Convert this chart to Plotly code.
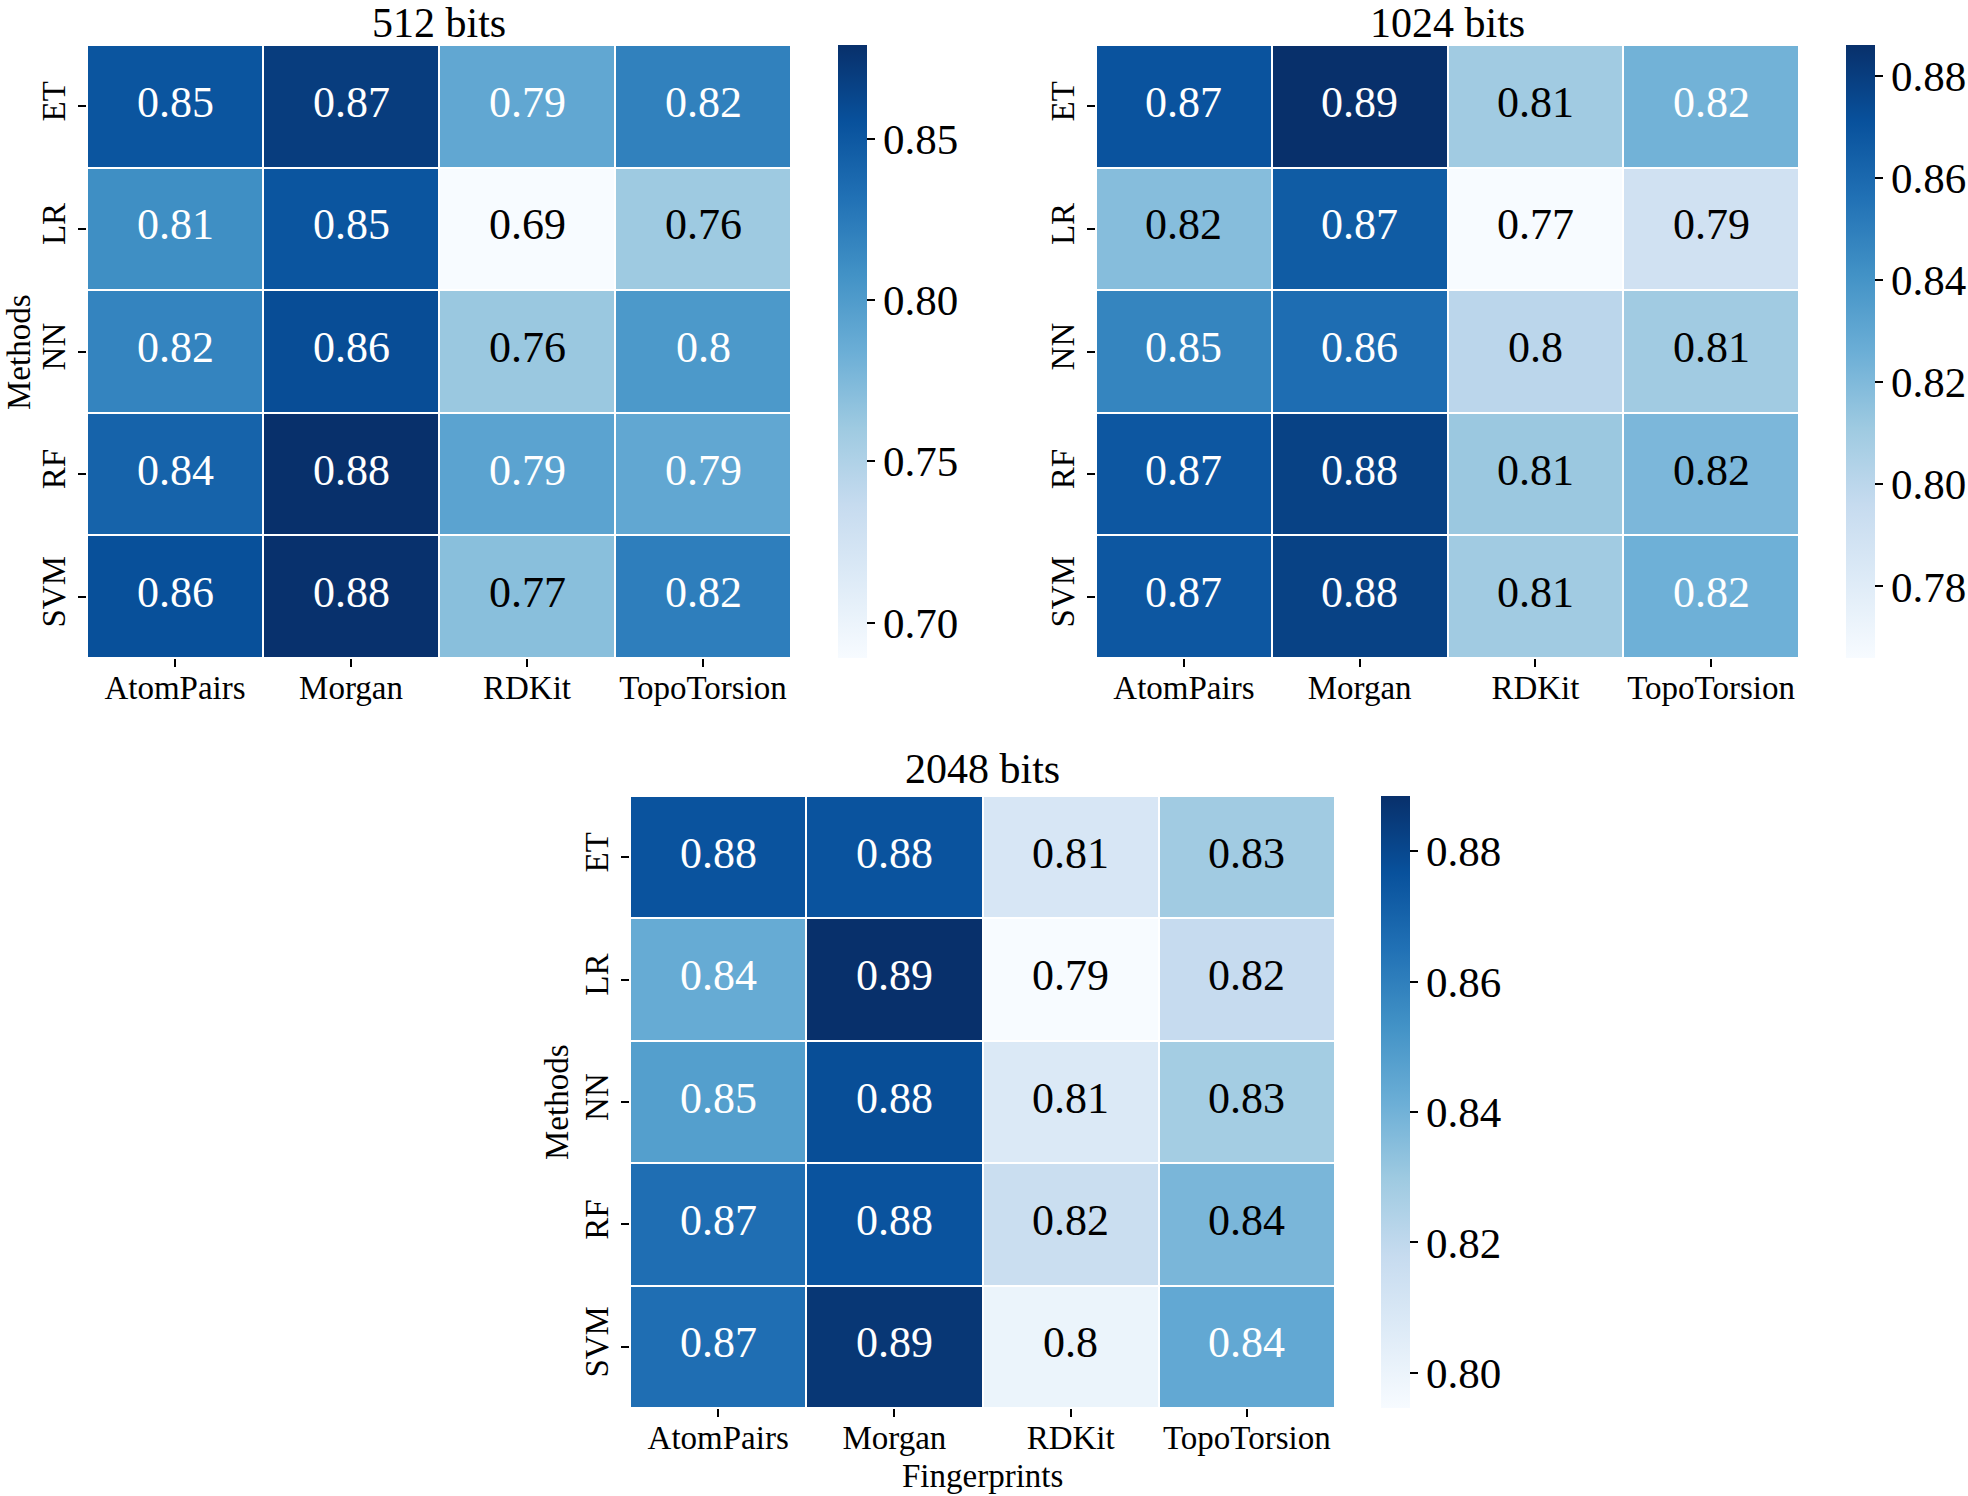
import plotly.graph_objects as go
from plotly.colors import sequential

fingerprints = ["AtomPairs", "Morgan", "RDKit", "TopoTorsion"]
methods = ["ET", "LR", "NN", "RF", "SVM"]

titles = ["512 bits", "1024 bits", "2048 bits"]

vals_512 = [
    [0.852, 0.870, 0.790, 0.820],
    [0.810, 0.852, 0.689, 0.760],
    [0.818, 0.858, 0.762, 0.802],
    [0.842, 0.879, 0.793, 0.790],
    [0.856, 0.878, 0.770, 0.822],
]
vals_1024 = [
    [0.870, 0.886, 0.810, 0.824],
    [0.818, 0.866, 0.766, 0.790],
    [0.847, 0.858, 0.800, 0.810],
    [0.868, 0.878, 0.812, 0.821],
    [0.868, 0.878, 0.810, 0.825],
]
vals_2048 = [
    [0.876, 0.876, 0.810, 0.829],
    [0.843, 0.8885, 0.7946, 0.818],
    [0.848, 0.878, 0.808, 0.828],
    [0.866, 0.876, 0.816, 0.838],
    [0.866, 0.886, 0.800, 0.844],
]
cbar_dticks = [0.05, 0.02, 0.02]

W, H = 1968, 1496
FONT = "Liberation Serif"
blues = sequential.Blues
cscale = [[i / (len(blues) - 1), c] for i, c in enumerate(blues)]


def px(x):
    return x / W


def py(y):
    return 1 - y / H


def parse(c):
    return [int(v) for v in c[c.index("(") + 1:c.index(")")].split(",")]


def color_at(t):
    n = len(blues) - 1
    t = min(max(t, 0), 1)
    i = min(int(t * n), n - 1)
    f = t * n - i
    a, b = parse(blues[i]), parse(blues[i + 1])
    return [a[k] + (b[k] - a[k]) * f for k in range(3)]


def lum(rgb):
    out = []
    for v in rgb:
        v = v / 255
        out.append(v / 12.92 if v <= 0.03928 else ((v + 0.055) / 1.055) ** 2.4)
    return 0.2126 * out[0] + 0.7152 * out[1] + 0.0722 * out[2]


# panel geometry in pixels: (x0, x1, y_top, y_bottom, cbar_x0)
panels = [
    (87, 791, 45, 658, 838),
    (1096, 1799, 45, 658, 1846),
    (630, 1335, 796, 1408, 1381),
]
title_y = [23, 23, 769]

fig = go.Figure()
annotations = []
datasets = [vals_512, vals_1024, vals_2048]

for k, (z, (x0, x1, yt, yb, cbx)) in enumerate(zip(datasets, panels)):
    ax = "" if k == 0 else str(k + 1)
    flat = [v for row in z for v in row]
    zmin, zmax = min(flat), max(flat)
    fig.add_trace(go.Heatmap(
        z=z, x=fingerprints, y=methods,
        colorscale=cscale, zmin=zmin, zmax=zmax,
        xgap=2, ygap=2,
        xaxis="x" + ax, yaxis="y" + ax,
        hoverinfo="skip",
        colorbar=dict(
            x=px(cbx), xanchor="left", xpad=0, ypad=0,
            y=(py(yt) + py(yb)) / 2, yanchor="middle",
            len=(yb - yt) / H, lenmode="fraction",
            thickness=29, thicknessmode="pixels",
            outlinewidth=0,
            ticks="outside", ticklen=8, tickwidth=1.5, tickcolor="black",
            tick0=0, dtick=cbar_dticks[k], tickformat=".2f",
            tickfont=dict(family=FONT, size=43, color="black"),
        ),
    ))
    axis_common = dict(
        ticks="outside", ticklen=8, tickwidth=1.5, tickcolor="black",
        showgrid=False, zeroline=False, showline=False, automargin=False,
        tickfont=dict(family=FONT, size=33, color="black"),
    )
    fig.update_layout(**{
        "xaxis" + ax: dict(domain=[px(x0), px(x1)], anchor="y" + ax,
                           ticklabelstandoff=-8, **axis_common),
        "yaxis" + ax: dict(domain=[py(yb), py(yt)], anchor="x" + ax,
                           autorange="reversed", tickangle=-90, **axis_common),
    })
    for i, m in enumerate(methods):
        for j, f in enumerate(fingerprints):
            v = z[i][j]
            t = (v - zmin) / (zmax - zmin)
            col = "#000000" if lum(color_at(t)) > 0.408 else "#ffffff"
            annotations.append(dict(
                x=f, y=m, xref="x" + ax, yref="y" + ax,
                text=f"{v:.2g}", showarrow=False, yshift=4,
                font=dict(family=FONT, size=44, color=col),
            ))
    annotations.append(dict(
        x=px((x0 + x1) / 2), y=py(title_y[k]), xref="paper", yref="paper",
        text=titles[k], showarrow=False, xanchor="center", yanchor="middle",
        font=dict(family=FONT, size=42, color="black"),
    ))

# axis titles
annotations.append(dict(
    x=px(19), y=py(352), xref="paper", yref="paper", text="Methods",
    textangle=-90, showarrow=False, xanchor="center", yanchor="middle",
    font=dict(family=FONT, size=33, color="black"),
))
annotations.append(dict(
    x=px(557), y=py(1102), xref="paper", yref="paper", text="Methods",
    textangle=-90, showarrow=False, xanchor="center", yanchor="middle",
    font=dict(family=FONT, size=33, color="black"),
))
annotations.append(dict(
    x=px(982), y=py(1476), xref="paper", yref="paper", text="Fingerprints",
    showarrow=False, xanchor="center", yanchor="middle",
    font=dict(family=FONT, size=33, color="black"),
))

fig.update_layout(
    width=W, height=H,
    margin=dict(l=0, r=0, t=0, b=0, autoexpand=False),
    paper_bgcolor="white", plot_bgcolor="white",
    annotations=annotations,
    showlegend=False,
)

fig.write_html(
    "out.html",
    config={"displayModeBar": False},
    post_script="document.body.style.margin='0';document.body.style.overflow='hidden';",
)
